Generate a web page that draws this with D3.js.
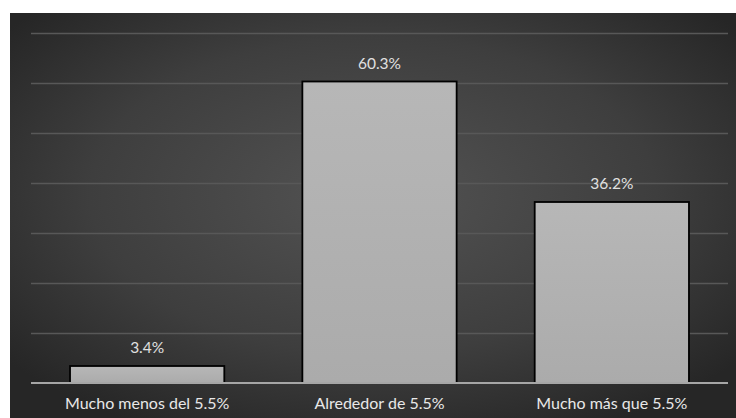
<!DOCTYPE html>
<html>
<head>
<meta charset="utf-8">
<script src="https://cdn.jsdelivr.net/npm/d3@7"></script>
<style>
  html, body { margin: 0; padding: 0; background: #ffffff; }
  svg { display: block; }
</style>
</head>
<body>
<script>
// Survey answers and their shares (%)
const categories = ["Mucho menos del 5.5%", "Alrededor de 5.5%", "Mucho más que 5.5%"];
const values = [3.4, 60.3, 36.2];
const gridTicks = [0, 10, 20, 30, 40, 50, 60, 70];

const W = 736, H = 418;
const panel = { x: 10, y: 13, w: 726, h: 405 };
const plot = { left: 31, right: 728, top: 33, bottom: 383 };

const svg = d3.select("body").append("svg")
  .attr("width", W).attr("height", H);

const defs = svg.append("defs");
const bg = defs.append("radialGradient").attr("id", "bgGrad")
  .attr("cx", "50%").attr("cy", "45%").attr("r", "65%");
bg.append("stop").attr("offset", "0%").attr("stop-color", "#535353");
bg.append("stop").attr("offset", "60%").attr("stop-color", "#3e3e3e");
bg.append("stop").attr("offset", "100%").attr("stop-color", "#262626");

const barGrad = defs.append("linearGradient").attr("id", "barGrad")
  .attr("x1", 0).attr("y1", 0).attr("x2", 0).attr("y2", 1);
barGrad.append("stop").attr("offset", "0%").attr("stop-color", "#b7b7b7");
barGrad.append("stop").attr("offset", "100%").attr("stop-color", "#ababab");

svg.append("rect")
  .attr("x", panel.x).attr("y", panel.y)
  .attr("width", panel.w).attr("height", panel.h)
  .attr("fill", "url(#bgGrad)");

const x = d3.scaleBand()
  .domain(categories)
  .range([plot.left, plot.right])
  .paddingInner(0.336)
  .paddingOuter(0.168);

const y = d3.scaleLinear()
  .domain([0, 70])
  .range([plot.bottom, plot.top]);

// Horizontal gridlines
svg.append("g")
  .selectAll("line")
  .data(gridTicks.filter(d => d > 0))
  .join("line")
  .attr("x1", plot.left).attr("x2", plot.right)
  .attr("y1", d => Math.round(y(d)) + 0.5)
  .attr("y2", d => Math.round(y(d)) + 0.5)
  .attr("stroke", "#585858")
  .attr("stroke-width", 1.5);

// Bars
svg.append("g")
  .selectAll("rect")
  .data(values)
  .join("rect")
  .attr("x", (d, i) => x(categories[i]))
  .attr("y", d => y(d))
  .attr("width", x.bandwidth())
  .attr("height", d => y(0) - y(d))
  .attr("fill", "url(#barGrad)")
  .attr("stroke", "#000000")
  .attr("stroke-width", 1.8);

// Baseline axis
const xAxis = svg.append("g")
  .attr("transform", `translate(0,${y(0)})`)
  .call(d3.axisBottom(x).tickSize(0).tickPadding(15));
xAxis.select(".domain")
  .attr("d", `M${plot.left},0H${plot.right}`)
  .attr("stroke", "#a6a6a6")
  .attr("stroke-width", 2);
xAxis.selectAll("text")
  .attr("fill", "#e8e8e8")
  .attr("font-family", "Lato, 'Open Sans', sans-serif")
  .attr("font-size", 16);

// Value labels
svg.append("g")
  .selectAll("text")
  .data(values)
  .join("text")
  .attr("x", (d, i) => x(categories[i]) + x.bandwidth() / 2)
  .attr("y", d => y(d) - 13)
  .attr("text-anchor", "middle")
  .attr("fill", "#e0e0e0")
  .attr("font-family", "Lato, 'Open Sans', sans-serif")
  .attr("font-size", 15.5)
  .text(d => d.toFixed(1) + "%");
</script>
</body>
</html>
